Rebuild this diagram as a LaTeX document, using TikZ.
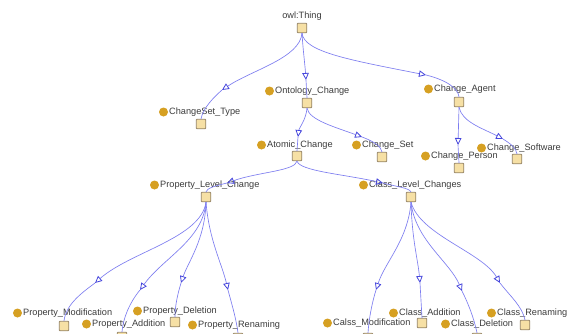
\documentclass[tikz,border=0pt]{standalone}
\usepackage{fontspec}
\setmainfont{Liberation Sans}
\usetikzlibrary{arrows.meta}
\definecolor{edgecol}{RGB}{125,125,240}
\definecolor{tipcol}{RGB}{70,70,220}
\definecolor{dotcol}{RGB}{214,160,34}
\definecolor{boxfill}{RGB}{246,224,165}
\definecolor{boxline}{RGB}{150,132,100}
\definecolor{txtcol}{RGB}{60,60,60}
\tikzset{
  clsbox/.style={draw=boxline, fill=boxfill, line width=0.8pt, minimum size=9.5pt, inner sep=0pt, rounded corners=0.8pt},
  clsdot/.style={circle, fill=dotcol, minimum size=9pt, inner sep=0pt},
  clslbl/.style={font=\fontsize{9.2}{10}\selectfont, text=txtcol, inner sep=0pt, text height=6.6pt, text depth=1.9pt},
  edge/.style={draw=edgecol, line width=0.65pt},
  tipped/.style={edge, -{Triangle[open, length=7pt, width=6.5pt, line width=0.8pt, color=tipcol]}}
}
\begin{document}
\begin{tikzpicture}[x=1pt, y=-1pt]
\useasboundingbox (0,0) rectangle (570,333);
\fill[white] (0,0) rectangle (570,333);
\clip (0,0) rectangle (570,333);

% ---------- labels and dots ----------
\node[clslbl] (thing-l) at (302,16) {owl:Thing};

\node[clslbl, anchor=west] (cst-l) at (169,112) {ChangeSet\_Type};
\node[clsdot] (cst-d) at (163.5,112) {};
\node[clslbl, anchor=west] (oc-l) at (275,91) {Ontology\_Change};
\node[clsdot] (oc-d) at (269.5,91) {};
\node[clslbl, anchor=west] (ca-l) at (434,89) {Change\_Agent};
\node[clsdot] (ca-d) at (428.5,89) {};
\node[clslbl, anchor=west] (ac-l) at (267,145) {Atomic\_Change};
\node[clsdot] (ac-d) at (261.5,145) {};
\node[clslbl, anchor=west] (cs-l) at (362,145) {Change\_Set};
\node[clsdot] (cs-d) at (356.5,145) {};
\node[clslbl, anchor=west] (cp-l) at (431,156) {Change\_Person};
\node[clsdot] (cp-d) at (425.5,156) {};
\node[clslbl, anchor=west] (csw-l) at (487,148) {Change\_Software};
\node[clsdot] (csw-d) at (481.5,148) {};
\node[clslbl, anchor=west] (plc-l) at (160,185) {Property\_Level\_Change};
\node[clsdot] (plc-d) at (154.5,185) {};
\node[clslbl, anchor=west] (clc-l) at (369,185) {Class\_Level\_Changes};
\node[clsdot] (clc-d) at (363.5,185) {};

\node[clslbl, anchor=west] (pm-l) at (23,313) {Property\_Modification};
\node[clsdot] (pm-d) at (17.5,313) {};
\node[clslbl, anchor=west] (pa-l) at (92,324) {Property\_Addition};
\node[clsdot] (pa-d) at (86.5,324) {};
\node[clslbl, anchor=west] (pd-l) at (143,311) {Property\_Deletion};
\node[clsdot] (pd-d) at (137.5,311) {};
\node[clslbl, anchor=west] (pr-l) at (198,325) {Property\_Renaming};
\node[clsdot] (pr-d) at (192.5,325) {};
\node[clslbl, anchor=west] (cm-l) at (333,323) {Calss\_Modification};
\node[clsdot] (cm-d) at (327.5,323) {};
\node[clslbl, anchor=west] (cad-l) at (399,313) {Class\_Addition};
\node[clsdot] (cad-d) at (393.5,313) {};
\node[clslbl, anchor=west] (cd-l) at (451,324) {Class\_Deletion};
\node[clsdot] (cd-d) at (445.5,324) {};
\node[clslbl, anchor=west] (cr-l) at (497,313) {Class\_Renaming};
\node[clsdot] (cr-d) at (491.5,313) {};

% ---------- class boxes ----------
\node[clsbox] (thing) at (302,28) {};
\node[clsbox] (cst) at (201,124) {};
\node[clsbox] (oc) at (307,103) {};
\node[clsbox] (ca) at (459,102) {};
\node[clsbox] (ac) at (297,156) {};
\node[clsbox] (cs) at (382,157) {};
\node[clsbox] (cp) at (459,168) {};
\node[clsbox] (csw) at (517,159) {};
\node[clsbox] (plc) at (206,197) {};
\node[clsbox] (clc) at (411,197) {};
\node[clsbox] (pm) at (64,326) {};
\node[clsbox] (pa) at (122,337) {};
\node[clsbox] (pd) at (175,322) {};
\node[clsbox] (pr) at (238,338) {};
\node[clsbox] (cm) at (368,338) {};
\node[clsbox] (cad) at (422,323) {};
\node[clsbox] (cd) at (477,338) {};
\node[clsbox] (cr) at (525,325) {};

% ---------- edges ----------
\coordinate (a1) at (222,90);
\draw[tipped] (thing.south) .. controls (300,58) and (252,70) .. (a1);
\draw[edge] (a1) .. controls (214,97) and (203,108) .. (cst.north);

\coordinate (a2) at (306,80);
\draw[tipped] (thing.south) .. controls (303,50) and (305,65) .. (a2);
\draw[edge] (a2) -- (oc.north);

\coordinate (a3) at (426,75);
\draw[tipped] (thing.south) .. controls (304,52) and (350,60) .. (a3);
\draw[edge] (a3) .. controls (446,80) and (458,88) .. (ca.north);

\coordinate (a4) at (298,137);
\draw[tipped] (oc.south) .. controls (306,120) and (299,128) .. (a4);
\draw[edge] (a4) -- (ac.north);

\coordinate (a5) at (362,137);
\draw[tipped] (oc.south) .. controls (309,120) and (335,127) .. (a5);
\draw[edge] (a5) .. controls (373,141) and (381,146) .. (cs.north);

\coordinate (a6) at (458,145);
\draw[tipped] (ca.south) -- (a6);
\draw[edge] (a6) -- (cp.north);

\coordinate (a7) at (503,139);
\draw[tipped] (ca.south) .. controls (462,122) and (482,128) .. (a7);
\draw[edge] (a7) .. controls (511,144) and (516,148) .. (csw.north);

\coordinate (a8) at (227,183);
\draw[tipped] (ac.south) .. controls (295,171) and (258,172) .. (a8);
\draw[edge] (a8) .. controls (215,186) and (207,188) .. (plc.north);

\coordinate (a9) at (383,183);
\draw[tipped] (ac.south) .. controls (300,171) and (342,174) .. (a9);
\draw[edge] (a9) .. controls (398,187) and (409,188) .. (clc.north);

\coordinate (a10) at (95,283);
\draw[tipped] (plc.south) .. controls (201,238) and (130,252) .. (a10);
\draw[edge] (a10) .. controls (80,294) and (66,305) .. (pm.north);

\coordinate (a11) at (140,290);
\draw[tipped] (plc.south) .. controls (203,240) and (163,258) .. (a11);
\draw[edge] (a11) .. controls (130,302) and (123,318) .. (pa.north);

\coordinate (a12) at (181,283);
\draw[tipped] (plc.south) .. controls (205,240) and (188,262) .. (a12);
\draw[edge] (a12) .. controls (178,293) and (175,305) .. (pd.north);

\coordinate (a13) at (228,290);
\draw[tipped] (plc.south) .. controls (209,240) and (222,264) .. (a13);
\draw[edge] (a13) .. controls (232,305) and (236,318) .. (pr.north);

\coordinate (a14) at (376,290);
\draw[tipped] (clc.south) .. controls (408,240) and (385,262) .. (a14);
\draw[edge] (a14) .. controls (372,303) and (369,318) .. (cm.north);

\coordinate (a15) at (420,283);
\draw[tipped] (clc.south) .. controls (412,240) and (418,260) .. (a15);
\draw[edge] (a15) -- (cad.north);

\coordinate (a16) at (462,291);
\draw[tipped] (clc.south) .. controls (415,240) and (450,262) .. (a16);
\draw[edge] (a16) .. controls (468,303) and (474,318) .. (cd.north);

\coordinate (a17) at (500,283);
\draw[tipped] (clc.south) .. controls (420,235) and (482,252) .. (a17);
\draw[edge] (a17) .. controls (510,296) and (522,306) .. (cr.north);
\end{tikzpicture}
\end{document}
